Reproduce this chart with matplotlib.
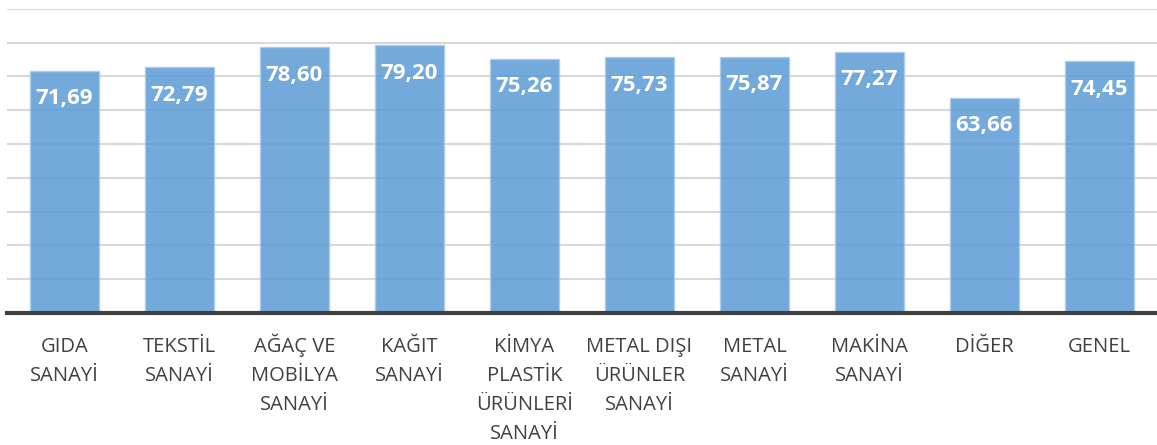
import matplotlib.pyplot as plt
import numpy as np

plt.rcParams['font.family'] = ['Open Sans', 'DejaVu Sans']

categories = ["GIDA\nSANAYİ", "TEKSTİL\nSANAYİ", "AĞAÇ VE\nMOBİLYA\nSANAYİ", "KAĞIT\nSANAYİ",
              "KİMYA\nPLASTİK\nÜRÜNLERİ\nSANAYİ", "METAL DIŞI\nÜRÜNLER\nSANAYİ", "METAL\nSANAYİ",
              "MAKİNA\nSANAYİ", "DİĞER", "GENEL"]
values = [71.69, 72.79, 78.60, 79.20, 75.26, 75.73, 75.87, 77.27, 63.66, 74.45]

fig = plt.figure(figsize=(11.57, 4.45), dpi=100)
ax = fig.add_axes([0.006, 0.297, 0.994, 0.683])

x = np.arange(len(values))
ax.bar(x, values, width=0.6, color='#5b9bd5', alpha=0.85, edgecolor='#a9cbeb', linewidth=1, zorder=3)

for xi, v in zip(x, values):
    ax.annotate(f"{v:.2f}".replace('.', ','), (xi, v), xytext=(0, -28), textcoords='offset pixels',
                ha='center', va='center', color='white', fontsize=16, fontweight='bold', zorder=4)

# category labels, one line at a time so first lines share a baseline
for xi, lab in zip(x, categories):
    for i, line in enumerate(lab.split('\n')):
        ax.annotate(line, (xi, 0), xycoords=('data', 'axes fraction'), xytext=(0, -39 - 29 * i),
                    textcoords='offset pixels', ha='center', va='baseline',
                    fontsize=14.5, color='#404040', annotation_clip=False)

ax.set_xlim(-0.5, len(values) - 0.5)
ax.set_ylim(0, 90)
ax.set_yticks(np.arange(0, 91, 10))
ax.yaxis.grid(True, color='#d9d9d9', linewidth=1.5, zorder=0)
ax.tick_params(axis='y', left=False, labelleft=False)
ax.set_xticks([])
for s in ['top', 'right', 'left']:
    ax.spines[s].set_visible(False)
ax.spines['bottom'].set_color('#404040')
ax.spines['bottom'].set_linewidth(3)
ax.spines['bottom'].set_zorder(5)

fig.savefig('out.png', dpi=100)
